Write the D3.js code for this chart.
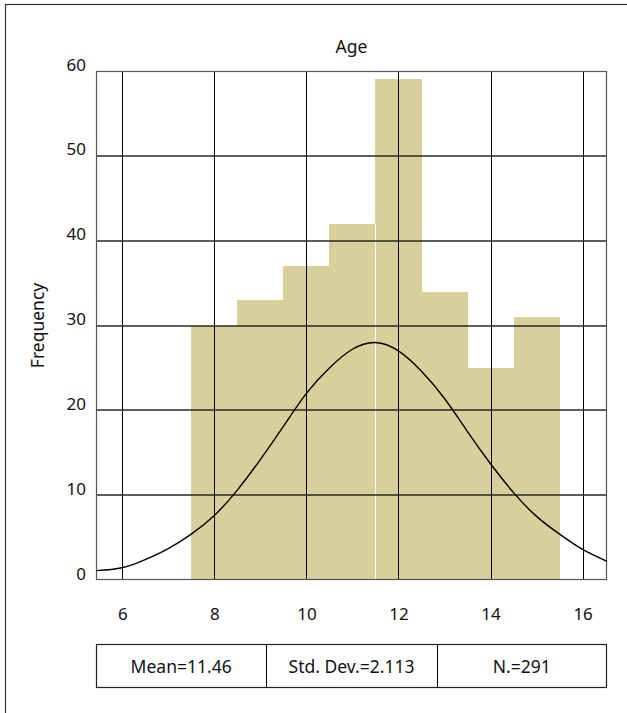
<!DOCTYPE html>
<html>
<head>
<meta charset="utf-8">
<script src="https://cdn.jsdelivr.net/npm/d3@7"></script>
<style>
  html, body { margin: 0; padding: 0; background: #fff; overflow: hidden; }
  svg { display: block; font-family: 'Noto Sans', sans-serif; }
</style>
</head>
<body>
<div id="chart"></div>
<script>
// histogram bins (centre of each 1-year bin) and counts
const binCentres = [8, 9, 10, 11, 12, 13, 14, 15]
const counts = [30, 33, 37, 42, 59, 34, 25, 31]

// axis ticks
const xTicks = [6, 8, 10, 12, 14, 16]
const yTicks = [0, 10, 20, 30, 40, 50, 60]

// fitted normal curve
const curveAge = [5.43, 6, 6.5, 7, 7.5, 8, 8.5, 9, 9.5, 10, 10.5, 11, 11.5,
  12, 12.5, 13, 13.5, 14, 14.5, 15, 15.5, 16, 16.53]
const curveFreq = [1.1, 1.45, 2.4, 3.7, 5.4, 7.6, 10.6, 14.2, 18.1, 22.0, 25.0, 27.2, 28.0,
  27.0, 24.6, 21.4, 17.5, 13.7, 10.3, 7.5, 5.4, 3.6, 2.2]

// summary table
const stats = ['Mean=11.46', 'Std. Dev.=2.113', 'N.=291']

const W = 627, H = 713
const plot = { left: 96, right: 607, top: 71, bottom: 580 }
const barColor = '#d7d09a'

const svg = d3.select('#chart').append('svg')
  .attr('width', W).attr('height', H)

// outer frame (runs off the right and bottom of the picture)
svg.append('rect')
  .attr('x', 5.5).attr('y', 4.5).attr('width', 800).attr('height', 900)
  .attr('fill', 'none').attr('stroke', '#333').attr('stroke-width', 1.2)

const x = d3.scaleLinear().domain([5.43, 16.53]).range([plot.left, plot.right])
const y = d3.scaleLinear().domain([0, 60]).range([plot.bottom, plot.top])

// bars
svg.append('g').attr('shape-rendering', 'crispEdges')
  .selectAll('rect')
  .data(binCentres.map((c, i) => ({ c, n: counts[i] })))
  .join('rect')
  .attr('x', d => x(d.c - 0.5))
  .attr('width', d => x(d.c + 0.5) - x(d.c - 0.5) + 0.5)
  .attr('y', d => y(d.n))
  .attr('height', d => y(0) - y(d.n))
  .attr('fill', barColor)

// thin white seam between the 11 and 12 bars
svg.append('line')
  .attr('x1', x(11.5)).attr('x2', x(11.5))
  .attr('y1', y(0)).attr('y2', y(Math.min(counts[3], counts[4])))
  .attr('stroke', '#fff').attr('stroke-width', 1)

// grid
const grid = svg.append('g').attr('stroke', '#000').attr('stroke-width', 1)
grid.selectAll('.vx').data(xTicks).join('line')
  .attr('x1', d => Math.round(x(d)) + 0.5).attr('x2', d => Math.round(x(d)) + 0.5)
  .attr('y1', plot.top).attr('y2', plot.bottom)
grid.selectAll('.hy').data(yTicks.slice(1, -1)).join('line')
  .attr('x1', plot.left).attr('x2', plot.right)
  .attr('y1', d => Math.round(y(d))).attr('y2', d => Math.round(y(d)))
  .attr('stroke', '#2a2a22').attr('stroke-width', 1.4)

// plot border
svg.append('rect')
  .attr('x', plot.left + 0.5).attr('y', plot.top + 0.5)
  .attr('width', plot.right - plot.left - 1).attr('height', plot.bottom - plot.top - 1)
  .attr('fill', 'none').attr('stroke', '#555').attr('stroke-width', 1.2)

// normal curve
const line = d3.line()
  .x(d => x(d[0])).y(d => y(d[1]))
  .curve(d3.curveNatural)
svg.append('path')
  .datum(curveAge.map((a, i) => [a, curveFreq[i]]))
  .attr('d', line)
  .attr('fill', 'none').attr('stroke', '#000').attr('stroke-width', 1.4)

// axes (labels only)
const xAxis = svg.append('g')
  .attr('transform', `translate(0,${plot.bottom})`)
  .call(d3.axisBottom(x).tickValues(xTicks).tickSize(0).tickFormat(d3.format('d')))
xAxis.select('.domain').remove()
xAxis.selectAll('text')
  .attr('y', 40).attr('dy', 0)
  .style('font-family', 'Noto Sans').style('font-size', '17px').attr('fill', '#111')

const yAxis = svg.append('g')
  .attr('transform', `translate(${plot.left},0)`)
  .call(d3.axisLeft(y).tickValues(yTicks).tickSize(0).tickFormat(d3.format('d')))
yAxis.select('.domain').remove()
yAxis.selectAll('text')
  .attr('x', -10).attr('dy', -1)
  .style('font-family', 'Noto Sans').style('font-size', '17px').attr('fill', '#111')

// title and y label
svg.append('text')
  .attr('x', (plot.left + plot.right) / 2).attr('y', 53)
  .attr('text-anchor', 'middle')
  .style('font-size', '17.5px').attr('fill', '#111')
  .text('Age')

svg.append('text')
  .attr('transform', `translate(44,${(plot.top + plot.bottom) / 2}) rotate(-90)`)
  .attr('text-anchor', 'middle')
  .style('font-size', '17.5px').attr('fill', '#111')
  .text('Frequency')

// stats table
const tTop = 644, tBottom = 687
const cellW = (plot.right - plot.left) / stats.length
const table = svg.append('g')
table.append('rect')
  .attr('x', plot.left + 0.5).attr('y', tTop + 0.5)
  .attr('width', plot.right - plot.left - 1).attr('height', tBottom - tTop)
  .attr('fill', 'none').attr('stroke', '#222').attr('stroke-width', 1.2)
table.selectAll('.div').data(stats.slice(1)).join('line')
  .attr('x1', (d, i) => Math.round(plot.left + cellW * (i + 1)) + 0.5)
  .attr('x2', (d, i) => Math.round(plot.left + cellW * (i + 1)) + 0.5)
  .attr('y1', tTop).attr('y2', tBottom)
  .attr('stroke', '#000')
table.selectAll('text').data(stats).join('text')
  .attr('x', (d, i) => plot.left + cellW * (i + 0.5))
  .attr('y', 673)
  .attr('text-anchor', 'middle')
  .style('font-size', '17.5px').attr('fill', '#111')
  .text(d => d)
</script>
</body>
</html>
